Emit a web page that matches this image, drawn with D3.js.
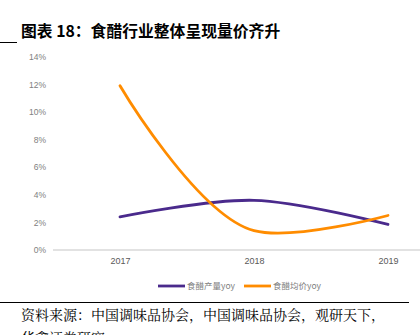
<!DOCTYPE html>
<html><head><meta charset="utf-8">
<script src="https://cdn.jsdelivr.net/npm/d3@7"></script>
<style>body{margin:0;background:#fff;overflow:hidden}svg{display:block}</style>
</head><body>
<svg id="c" width="420" height="335"></svg>
<script>
const categories = ["2017", "2018", "2019"];
const volumeYoy = [2.4, 3.6, 1.85];
const priceYoy = [11.9, 1.4, 2.5];
const yTicks = [0, 2, 4, 6, 8, 10, 12, 14];
const seriesNames = ["食醋产量yoy", "食醋均价yoy"];
const colors = ["#4a2a8c", "#ff8c00"];

const svg = d3.select("#c");
const x = d3.scalePoint().domain(categories).range([53, 455]).padding(0.5);
const y = d3.scaleLinear().domain([0, 14]).range([250, 56.7]);

// title
svg.append("line").attr("x1", 0).attr("x2", 17).attr("y1", 42.5).attr("y2", 42.5).attr("stroke", "#000").attr("stroke-width", 1);
svg.append("text").attr("x", 21).attr("y", 37).attr("font-family", "'Noto Sans CJK SC'").attr("font-weight", "bold")
  .attr("font-size", 15.8).attr("fill", "#000").text("图表 18：食醋行业整体呈现量价齐升");

// y axis labels
const yAxis = d3.axisLeft(y).tickValues(yTicks).tickFormat(d => d + "%").tickSize(0).tickPadding(0);
const gy = svg.append("g").attr("transform", "translate(46,0)").call(yAxis);
gy.select(".domain").remove();
gy.selectAll("text").attr("font-family", "Liberation Sans, Arial").attr("font-size", 8.5).attr("fill", "#808080");

// x axis
const xAxis = d3.axisBottom(x).tickSize(0).tickPadding(8);
const gx = svg.append("g").attr("transform", "translate(0,250)").call(xAxis);
gx.select(".domain").attr("stroke", "#d9d9d9").attr("stroke-width", 1.5).attr("d", "M53,0H420");
gx.selectAll("text").attr("font-family", "Liberation Sans, Arial").attr("font-size", 9).attr("fill", "#595959");

// lines
const line = d3.line().x((d, i) => x(categories[i])).y(d => y(d)).curve(d3.curveCatmullRom.alpha(1));
[volumeYoy, priceYoy].forEach((s, k) => {
  svg.append("path").datum(s).attr("d", line).attr("fill", "none").attr("stroke", colors[k])
    .attr("stroke-width", 2.8).attr("stroke-linecap", "round");
});

// legend
const legendX = [158, 244];
seriesNames.forEach((n, k) => {
  svg.append("line").attr("x1", legendX[k]).attr("x2", legendX[k] + 27).attr("y1", 286).attr("y2", 286)
    .attr("stroke", colors[k]).attr("stroke-width", 2.8);
  svg.append("text").attr("x", legendX[k] + 29).attr("y", 289).attr("font-family", "'Noto Sans CJK SC'")
    .attr("font-size", 8.5).attr("fill", "#808080").text(n);
});

// footer
svg.append("line").attr("x1", 0).attr("x2", 409).attr("y1", 302.5).attr("y2", 302.5).attr("stroke", "#000").attr("stroke-width", 1);
svg.append("text").attr("x", 21).attr("y", 320).attr("font-family", "'Noto Serif CJK SC', 'Noto Sans CJK SC'")
  .attr("font-size", 14).attr("fill", "#000").text("资料来源：中国调味品协会，中国调味品协会，观研天下，");
svg.append("text").attr("x", 21).attr("y", 343).attr("font-family", "'Noto Serif CJK SC', 'Noto Sans CJK SC'")
  .attr("font-size", 14).attr("fill", "#000").text("华鑫证券研究");
</script>
</body></html>
